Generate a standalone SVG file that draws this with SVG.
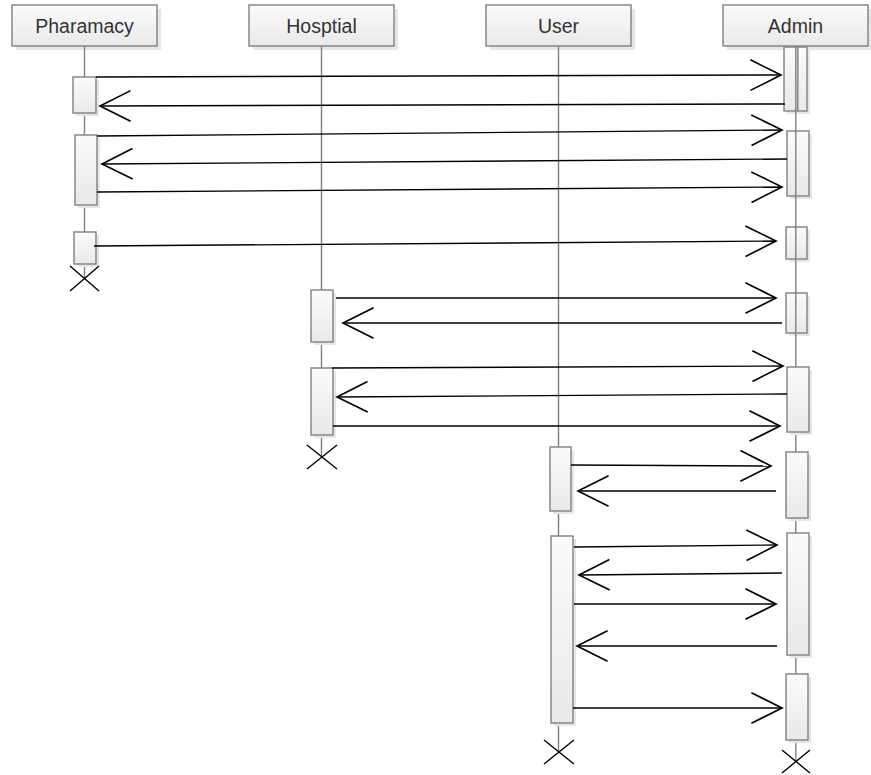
<svg xmlns="http://www.w3.org/2000/svg" width="871" height="775" viewBox="0 0 871 775">
<defs>
<linearGradient id="g" x1="0" y1="0" x2="0" y2="1"><stop offset="0" stop-color="#fbfbfb"/><stop offset="1" stop-color="#e9e9e9"/></linearGradient>
<marker id="ah" markerUnits="userSpaceOnUse" markerWidth="40" markerHeight="40" viewBox="-30 -16 34 32" refX="0" refY="0" orient="auto">
<path d="M -26 -13 L 0 0 L -26 13" fill="none" stroke="#000" stroke-width="1.4"/>
</marker>
</defs>
<style>
.hd{fill:url(#g);stroke:#808080;stroke-width:1.4}
.sh{fill:#e6e6e6}
.act{fill:url(#g);stroke:#808080;stroke-width:1.4}
.life{stroke:#808080;stroke-width:1.4;fill:none}
.lbl{font-family:"Liberation Sans",Arial,sans-serif;font-size:19.5px;fill:#333;text-anchor:middle}
.msg{stroke:#000;stroke-width:1.4;fill:none;marker-end:url(#ah)}
.x{stroke:#000;stroke-width:1.4;fill:none}
</style>
<rect width="871" height="775" fill="#fff"/>

<g id="pharmacy">
<rect class="sh" x="16" y="9" width="145" height="41"/>
<rect class="hd" x="12" y="5" width="145" height="41"/>
<text class="lbl" x="84.5" y="33">Pharamacy</text>
<line class="life" x1="84.5" y1="46" x2="84.5" y2="278"/>
<rect class="sh" x="76" y="80" width="23" height="36"/>
<rect class="act" x="73" y="77" width="23" height="36"/>
<rect class="sh" x="78" y="138" width="22" height="70"/>
<rect class="act" x="75" y="135" width="22" height="70"/>
<rect class="sh" x="77" y="235" width="22" height="32"/>
<rect class="act" x="74" y="232" width="22" height="32"/>
<path class="x" d="M70 266 L99 291 M99 266 L70 291"/>
</g>

<g id="hospital">
<rect class="sh" x="253" y="9" width="145" height="41"/>
<rect class="hd" x="249" y="5" width="145" height="41"/>
<text class="lbl" x="321.5" y="33">Hosptial</text>
<line class="life" x1="321.5" y1="46" x2="321.5" y2="457"/>
<rect class="sh" x="314" y="293" width="22" height="52"/>
<rect class="act" x="311" y="290" width="22" height="52"/>
<rect class="sh" x="314" y="371" width="22" height="67"/>
<rect class="act" x="311" y="368" width="22" height="67"/>
<path class="x" d="M307 445 L337 469 M337 445 L307 469"/>
</g>

<g id="user">
<rect class="sh" x="490" y="9" width="145" height="41"/>
<rect class="hd" x="486" y="5" width="145" height="41"/>
<text class="lbl" x="558.5" y="33">User</text>
<line class="life" x1="558.5" y1="46" x2="558.5" y2="752"/>
<rect class="sh" x="553" y="450" width="21" height="64"/>
<rect class="act" x="550" y="447" width="21" height="64"/>
<rect class="sh" x="554" y="539" width="22" height="187"/>
<rect class="act" x="551" y="536" width="22" height="187"/>
<path class="x" d="M544 740 L574 764 M574 740 L544 764"/>
</g>

<g id="admin">
<rect class="sh" x="727" y="9" width="145" height="41"/>
<rect class="hd" x="723" y="5" width="145" height="41"/>
<text class="lbl" x="795.5" y="33">Admin</text>
<rect class="sh" x="787" y="50" width="23" height="64"/>
<rect class="act" x="784" y="47" width="23" height="64"/>
<line class="life" x1="797.8" y1="47" x2="797.8" y2="111"/>
<rect class="sh" x="790" y="134" width="22" height="65"/>
<rect class="act" x="787" y="131" width="22" height="65"/>
<rect class="sh" x="789" y="230" width="21" height="32"/>
<rect class="act" x="786" y="227" width="21" height="32"/>
<rect class="sh" x="789" y="296" width="21" height="40"/>
<rect class="act" x="786" y="293" width="21" height="40"/>
<line class="life" x1="795.8" y1="46" x2="795.8" y2="367"/>
<line class="life" x1="795.8" y1="432" x2="795.8" y2="452"/>
<line class="life" x1="795.8" y1="518" x2="795.8" y2="533"/>
<line class="life" x1="795.8" y1="655" x2="795.8" y2="674"/>
<line class="life" x1="795.8" y1="740" x2="795.8" y2="762"/>
<rect class="sh" x="790" y="370" width="22" height="65"/>
<rect class="act" x="787" y="367" width="22" height="65"/>
<rect class="sh" x="789" y="455" width="22" height="66"/>
<rect class="act" x="786" y="452" width="22" height="66"/>
<rect class="sh" x="790" y="536" width="22" height="122"/>
<rect class="act" x="787" y="533" width="22" height="122"/>
<rect class="sh" x="789" y="677" width="22" height="66"/>
<rect class="act" x="786" y="674" width="22" height="66"/>
<path class="x" d="M782 750 L810 773 M810 750 L782 773"/>
</g>

<g id="connectors">
<line class="msg" x1="96" y1="77" x2="781" y2="75"/>
<line class="msg" x1="785" y1="104" x2="100" y2="106"/>
<line class="msg" x1="97" y1="136" x2="782" y2="130"/>
<line class="msg" x1="787" y1="159" x2="102" y2="164"/>
<line class="msg" x1="97" y1="192" x2="782" y2="187"/>
<line class="msg" x1="94" y1="246" x2="776" y2="241"/>
<line class="msg" x1="336" y1="298" x2="776" y2="298"/>
<line class="msg" x1="782" y1="323" x2="343" y2="323"/>
<line class="msg" x1="332" y1="368" x2="783" y2="366"/>
<line class="msg" x1="787" y1="394" x2="337" y2="397"/>
<line class="msg" x1="333" y1="426" x2="780" y2="426"/>
<line class="msg" x1="571" y1="465" x2="771" y2="466"/>
<line class="msg" x1="776" y1="491" x2="578" y2="491"/>
<line class="msg" x1="574" y1="547" x2="777" y2="545"/>
<line class="msg" x1="782" y1="573" x2="579" y2="575"/>
<line class="msg" x1="574" y1="604" x2="776" y2="604"/>
<line class="msg" x1="777" y1="646" x2="577" y2="646"/>
<line class="msg" x1="573" y1="708" x2="782" y2="708"/>
</g>
</svg>
